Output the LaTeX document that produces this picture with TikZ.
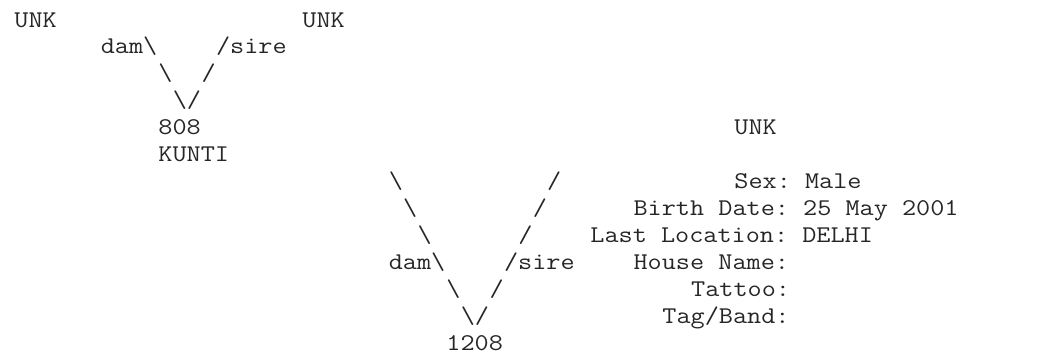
\documentclass[tikz,border=0pt]{standalone}
\usepackage{fontspec}
\setmonofont[FakeStretch=1.1429]{Latin Modern Mono}
\begin{document}
\begin{tikzpicture}[x=14.4pt,y=-26.92pt,font=\ttfamily\fontsize{24pt}{27pt}\selectfont,
  ch/.style={anchor=base west,inner sep=0pt,outer sep=0pt,text=black!85}]
\useasboundingbox (-1,-1.003) rectangle (71.29,12.407);

% parents of 808
\node[ch] (unkdam) at (0,0) {UNK};
\node[ch] (unksire) at (20,0) {UNK};
\node[ch] (dam808) at (6,1) {dam\textbackslash};
\node[ch] (sire808) at (14,1) {/sire};
\node[ch] (dl808) at (10,2) {\textbackslash};
\node[ch] (sl808) at (13,2) {/};
\node[ch] (tip808) at (11,3) {\textbackslash/};
\node[ch] (id808) at (10,4) {808};
\node[ch] (name808) at (10,5) {KUNTI};

% parents of 1208
\node[ch] (unk1208) at (50,4) {UNK};
\foreach \r in {0,1,2}{
  \node[ch] (dl\r) at (26+\r,6+\r) {\textbackslash};
  \node[ch] (sl\r) at (37-\r,6+\r) {/};
}
\node[ch] (dam1208) at (26,9) {dam\textbackslash};
\node[ch] (sire1208) at (34,9) {/sire};
\node[ch] (dl3) at (30,10) {\textbackslash};
\node[ch] (sl3) at (33,10) {/};
\node[ch] (tip1208) at (31,11) {\textbackslash/};
\node[ch] (id1208) at (30,12) {1208};

% details
\node[ch] (sex) at (50,6) {Sex: Male};
\node[ch] (birth) at (43,7) {Birth Date: 25 May 2001};
\node[ch] (loc) at (40,8) {Last Location: DELHI};
\node[ch] (house) at (43,9) {House Name:};
\node[ch] (tattoo) at (47,10) {Tattoo:};
\node[ch] (tag) at (45,11) {Tag/Band:};

\end{tikzpicture}
\end{document}
